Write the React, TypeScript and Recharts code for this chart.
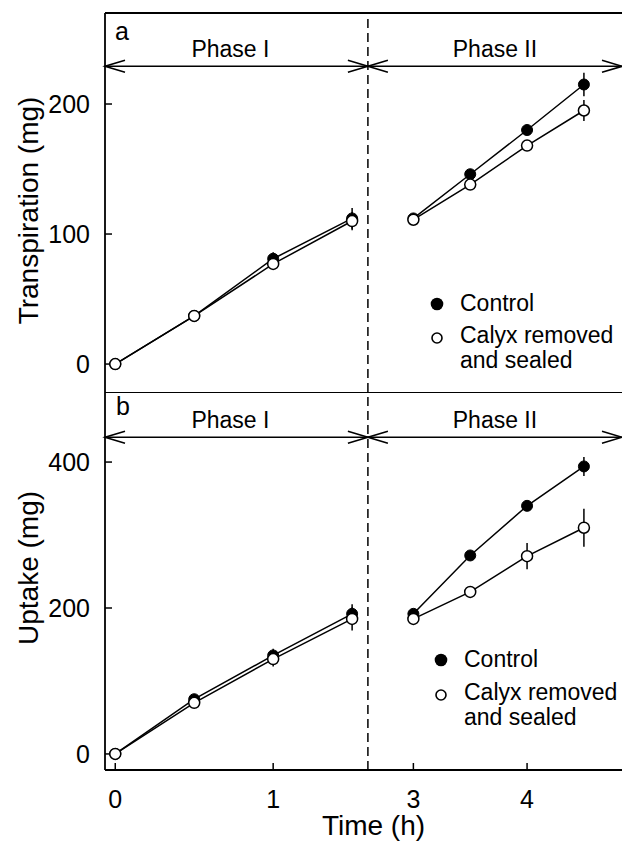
import React from 'react';
import { LineChart, Line, XAxis, YAxis, ErrorBar, ReferenceLine, Legend, Label } from 'recharts';

const FONT = '"Liberation Sans", Arial, Helvetica, sans-serif';

// ---- categories / ticks ----
const phase1Times = [0, 0.5, 1, 1.5];
const phase2Times = [3, 3.5, 4, 4.5];
const xTickTimes = [0, 1, 3, 4];
const xTickLabels = ['0', '1', '3', '4'];
const phaseLabels = ['Phase I', 'Phase II'];
const seriesNames = ['Control', 'Calyx removed and sealed'];

// ---- panel a: transpiration (mg) ----
const transControl1 = [0, 37, 81, 112];
const transControl1Err = [1, 2, 5, 8];
const transCalyx1 = [0, 37, 77, 110];
const transCalyx1Err = [1, 2, 4, 7];
const transControl2 = [112, 146, 180, 215];
const transControl2Err = [2, 3, 4, 9];
const transCalyx2 = [111, 138, 168, 195];
const transCalyx2Err = [2, 3, 4, 8];
const transTicks = [0, 100, 200];

// ---- panel b: uptake (mg) ----
const upControl1 = [0, 75, 135, 192];
const upControl1Err = [2, 5, 9, 13];
const upCalyx1 = [0, 70, 130, 185];
const upCalyx1Err = [2, 5, 10, 16];
const upControl2 = [192, 272, 340, 394];
const upControl2Err = [5, 5, 6, 13];
const upCalyx2 = [185, 222, 271, 310];
const upCalyx2Err = [4, 5, 18, 26];
const upTicks = [0, 200, 400];

// ---- broken time axis ----
const X_MIN_TIME = -0.065;
const BREAK_END = 1.6; // last time shown on the left part
const BREAK_START = 2.6; // first time shown on the right part
const RIGHT_RATIO = 0.72; // right part compressed relative to left
const X_MAX_TIME = 4.835;
const toAxis = (t: number) => (t <= BREAK_END ? t : BREAK_END + (t - BREAK_START) * RIGHT_RATIO);
const xDomain: [number, number] = [X_MIN_TIME, toAxis(X_MAX_TIME)];
const xTicks = xTickTimes.map(toAxis);

const makeSeries = (times: number[], values: number[], errs: number[]) =>
  times.map((t, i) => ({ u: toAxis(t), v: values[i], e: errs[i] }));

const ArrowShape = (props: any) => {
  const x1 = Number(props.x1), x2 = Number(props.x2), y = Number(props.y1);
  const l = Math.min(x1, x2), r = Math.max(x1, x2);
  const head = 20, half = 6;
  return (
    <g stroke="#000" strokeWidth={1.6} fill="none">
      <line x1={l} y1={y} x2={r} y2={y} />
      <polyline points={`${l + head},${y - half} ${l},${y} ${l + head},${y + half}`} />
      <polyline points={`${r - head},${y - half} ${r},${y} ${r - head},${y + half}`} />
    </g>
  );
};

const filledDot = { r: 5.5, fill: '#000', stroke: '#000', strokeWidth: 1 };
const openDot = { r: 5.5, fill: '#fff', stroke: '#000', strokeWidth: 1.5 };

const LegendBox = (props: any) => {
  const names = (props.payload || [])
    .filter((p: any) => p.type !== 'none')
    .map((p: any) => String(p.value));
  const items = seriesNames.filter((n) => names.length === 0 || names.includes(n));
  return (
    <div style={{ fontFamily: FONT, fontSize: 23, lineHeight: '25px', color: '#000' }}>
      {items.map((name: string) => {
        const isControl = name === seriesNames[0];
        return (
          <div key={name} style={{ display: 'flex', marginBottom: isControl ? props.rowGap : 0 }}>
            <svg width={16} height={25} style={{ flex: 'none' }}>
              {isControl ? (
                <circle cx={8} cy={13} r={6.3} fill="#000" />
              ) : (
                <circle cx={8} cy={15} r={5} fill="#fff" stroke="#000" strokeWidth={1.6} />
              )}
            </svg>
            <div style={{ marginLeft: 15, width: 160 }}>{name}</div>
          </div>
        );
      })}
    </div>
  );
};

type PanelProps = {
  height: number;
  marginTop: number;
  yDomain: [number, number];
  yTicks: number[];
  yLabel: string;
  yLabelShift: number;
  arrowY: number;
  c1: any[]; k1: any[]; c2: any[]; k2: any[];
  showX: boolean;
  legendLeft: number;
  legendTop: number;
  legendGap: number;
};

const Panel = (p: PanelProps) => (
  <LineChart width={622} height={p.height} margin={{ top: p.marginTop, right: 0, bottom: 0, left: 45 }}>
    <XAxis
      type="number"
      dataKey="u"
      domain={xDomain}
      allowDataOverflow
      ticks={xTicks}
      interval={0}
      tickFormatter={(v: number, i: number) => xTickLabels[i] ?? String(v)}
      hide={!p.showX}
      height={72}
      stroke="#000"
      strokeWidth={1.8}
      tickSize={-7}
      tickMargin={27}
      tick={{ fill: '#000', fontSize: 25, fontFamily: FONT }}
      axisLine={{ stroke: '#000', strokeWidth: 1.8 }}
      tickLine={{ stroke: '#000', strokeWidth: 1.5 }}
    >
      {p.showX && (
        <Label value="Time (h)" position="insideBottom" offset={7} dx={10} fill="#000" fontSize={28} fontFamily={FONT} />
      )}
    </XAxis>
    <YAxis
      type="number"
      domain={p.yDomain}
      allowDataOverflow
      ticks={p.yTicks}
      interval={0}
      width={60}
      tickSize={-7}
      tickMargin={22}
      tick={{ fill: '#000', fontSize: 25, fontFamily: FONT }}
      axisLine={{ stroke: '#000', strokeWidth: 1.8 }}
      tickLine={{ stroke: '#000', strokeWidth: 1.5 }}
      label={(lp: any) => {
        const vb = lp.viewBox || { x: 45, y: p.marginTop, width: 60, height: 380 };
        const cx = vb.x - 17;
        const cy = vb.y + vb.height / 2 + p.yLabelShift;
        return (
          <text
            x={cx}
            y={cy}
            transform={`rotate(-90 ${cx} ${cy})`}
            textAnchor="middle"
            dominantBaseline="central"
            fontSize={28}
            fontFamily={FONT}
            fill="#000"
          >
            {p.yLabel}
          </text>
        );
      }}
    />
    <ReferenceLine y={p.yDomain[1]} stroke="#000" strokeWidth={1.8} ifOverflow="visible" />
    <ReferenceLine x={BREAK_END} stroke="#000" strokeWidth={1.5} strokeDasharray="9 5" ifOverflow="visible" />
    <ReferenceLine
      segment={[{ x: xDomain[0], y: p.arrowY }, { x: BREAK_END, y: p.arrowY }]}
      ifOverflow="visible"
      shape={ArrowShape}
      label={{ value: phaseLabels[0], position: 'top', offset: 9, dx: -6, fill: '#000', fontSize: 23, fontFamily: FONT }}
    />
    <ReferenceLine
      segment={[{ x: BREAK_END, y: p.arrowY }, { x: xDomain[1], y: p.arrowY }]}
      ifOverflow="visible"
      shape={ArrowShape}
      label={{ value: phaseLabels[1], position: 'top', offset: 9, fill: '#000', fontSize: 23, fontFamily: FONT }}
    />
    <Line data={p.c1} dataKey="v" name={seriesNames[0]} type="linear" stroke="#000" strokeWidth={1.5}
      dot={filledDot} activeDot={false} isAnimationActive={false}>
      <ErrorBar dataKey="e" width={0} stroke="#000" strokeWidth={1.5} direction="y" />
    </Line>
    <Line data={p.k1} dataKey="v" name={seriesNames[1]} type="linear" stroke="#000" strokeWidth={1.5}
      dot={openDot} activeDot={false} isAnimationActive={false}>
      <ErrorBar dataKey="e" width={0} stroke="#000" strokeWidth={1.5} direction="y" />
    </Line>
    <Line data={p.c2} dataKey="v" name="Control II" legendType="none" type="linear" stroke="#000" strokeWidth={1.5}
      dot={filledDot} activeDot={false} isAnimationActive={false}>
      <ErrorBar dataKey="e" width={0} stroke="#000" strokeWidth={1.5} direction="y" />
    </Line>
    <Line data={p.k2} dataKey="v" name="Calyx II" legendType="none" type="linear" stroke="#000" strokeWidth={1.5}
      dot={openDot} activeDot={false} isAnimationActive={false}>
      <ErrorBar dataKey="e" width={0} stroke="#000" strokeWidth={1.5} direction="y" />
    </Line>
    <Legend
      layout="vertical"
      align="center"
      verticalAlign="middle"
      width={200}
      wrapperStyle={{ left: p.legendLeft, top: p.legendTop, width: 200 }}
      content={(lp: any) => <LegendBox {...lp} rowGap={p.legendGap} />}
    />
  </LineChart>
);

export default function App() {
  return (
    <div style={{ position: 'absolute', left: 0, top: 0, width: 622, height: 842, background: '#fff', overflow: 'hidden' }}>
      <div style={{ position: 'absolute', left: 0, top: 0 }}>
        <Panel
          height={392}
          marginTop={13}
          yDomain={[-21.5, 270]}
          yTicks={transTicks}
          yLabel="Transpiration (mg)"
          yLabelShift={8}
          arrowY={229}
          c1={makeSeries(phase1Times, transControl1, transControl1Err)}
          k1={makeSeries(phase1Times, transCalyx1, transCalyx1Err)}
          c2={makeSeries(phase2Times, transControl2, transControl2Err)}
          k2={makeSeries(phase2Times, transCalyx2, transCalyx2Err)}
          showX={false}
          legendLeft={429}
          legendTop={290.5}
          legendGap={7}
        />
      </div>
      <div style={{ position: 'absolute', left: 0, top: 392 }}>
        <Panel
          height={450}
          marginTop={0}
          yDomain={[-22, 496]}
          yTicks={upTicks}
          yLabel="Uptake (mg)"
          yLabelShift={-13}
          arrowY={434}
          c1={makeSeries(phase1Times, upControl1, upControl1Err)}
          k1={makeSeries(phase1Times, upCalyx1, upCalyx1Err)}
          c2={makeSeries(phase2Times, upControl2, upControl2Err)}
          k2={makeSeries(phase2Times, upCalyx2, upCalyx2Err)}
          showX={true}
          legendLeft={433}
          legendTop={254.5}
          legendGap={8}
        />
      </div>
      <div style={{ position: 'absolute', left: 115, top: 19, fontFamily: FONT, fontSize: 25, lineHeight: '25px' }}>a</div>
      <div style={{ position: 'absolute', left: 116, top: 394, fontFamily: FONT, fontSize: 25, lineHeight: '25px' }}>b</div>
    </div>
  );
}
